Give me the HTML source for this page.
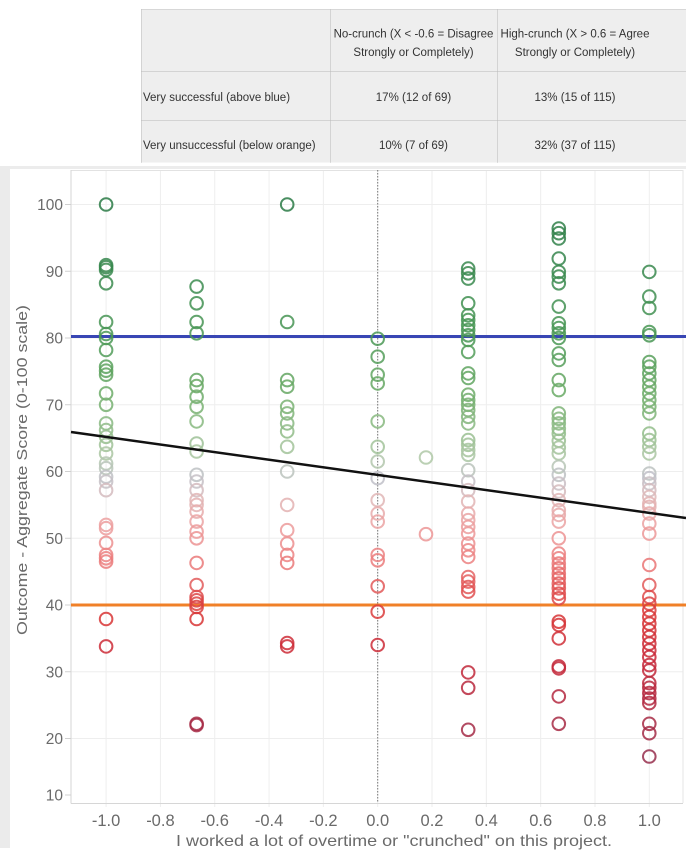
<!DOCTYPE html>
<html><head><meta charset="utf-8">
<style>
html,body{margin:0;padding:0;background:#fff;}
body{width:686px;height:863px;overflow:hidden;}
svg{display:block;font-family:"Liberation Sans",Arial,sans-serif;}
</style></head>
<body>
<svg id="s" width="686" height="863" viewBox="0 0 686 863" xmlns="http://www.w3.org/2000/svg">
<!-- table -->
<rect x="141" y="9.5" width="545" height="153" fill="#eeeeee"/>
<g stroke="#b8b8b8" stroke-width="1" stroke-dasharray="1,1" fill="none">
<line x1="141.5" y1="9.5" x2="686" y2="9.5"/>
<line x1="141.5" y1="9.5" x2="141.5" y2="163"/>
<line x1="330.5" y1="9.5" x2="330.5" y2="163"/>
<line x1="497.5" y1="9.5" x2="497.5" y2="163"/>
<line x1="141.5" y1="71.5" x2="686" y2="71.5"/>
<line x1="141.5" y1="120.5" x2="686" y2="120.5"/>
</g>
<g font-size="11.5" fill="#333">
<text x="413.5" y="37.5" text-anchor="middle">No-crunch (X &lt; -0.6 = Disagree</text>
<text x="413.5" y="56" text-anchor="middle">Strongly or Completely)</text>
<text x="575" y="37.5" text-anchor="middle">High-crunch (X &gt; 0.6 = Agree</text>
<text x="575" y="56" text-anchor="middle">Strongly or Completely)</text>
<text x="143" y="101">Very successful (above blue)</text>
<text x="413.5" y="101" text-anchor="middle">17% (12 of 69)</text>
<text x="575" y="101" text-anchor="middle">13% (15 of 115)</text>
<text x="143" y="149">Very unsuccessful (below orange)</text>
<text x="413.5" y="149" text-anchor="middle">10% (7 of 69)</text>
<text x="575" y="149" text-anchor="middle">32% (37 of 115)</text>
</g>
<!-- chart frame -->
<rect x="0" y="166" width="686" height="3" fill="#ececec"/>
<rect x="0" y="166" width="10" height="682" fill="#ebebeb"/>
<g id="grid" stroke="#eeeeee" stroke-width="1"></g>
<line x1="71" y1="170.5" x2="683" y2="170.5" stroke="#e2e2e2"/>
<line x1="683" y1="170" x2="683" y2="803" stroke="#e6e6e6"/>
<line x1="71" y1="170" x2="71" y2="803.5" stroke="#d6d6d6"/>
<line x1="71" y1="803.5" x2="683" y2="803.5" stroke="#d6d6d6"/>
<line x1="377.7" y1="170" x2="377.7" y2="803" stroke="#777" stroke-width="1" stroke-dasharray="1.5,1.5"/>
<g id="ylab" font-size="15.5" fill="#6a6a6a" text-anchor="end"></g>
<g id="xlab" font-size="16.5" fill="#6a6a6a" text-anchor="middle"></g>
<text x="394" y="846" font-size="16" fill="#6a6a6a" text-anchor="middle" textLength="436" lengthAdjust="spacingAndGlyphs">I worked a lot of overtime or "crunched" on this project.</text>
<text transform="translate(27,470) rotate(-90)" font-size="15" fill="#6a6a6a" text-anchor="middle" textLength="330" lengthAdjust="spacingAndGlyphs">Outcome - Aggregate Score (0-100 scale)</text>
<line x1="71" y1="336.5" x2="686" y2="336.5" stroke="#3846b4" stroke-width="3"/>
<line x1="71" y1="605" x2="686" y2="605" stroke="#f08028" stroke-width="3"/>
<g id="pts" fill="none" stroke-width="2" stroke-opacity="0.85"></g>
<line x1="71" y1="432" x2="686" y2="518" stroke="#111" stroke-width="2.5"/>
</svg>
<script>
(function(){
var NS="http://www.w3.org/2000/svg";
function X(x){return 377.7+x*271.6;}
function Y(v){return 204.5+(100-v)*6.675;}
function el(t,a,p,txt){var e=document.createElementNS(NS,t);for(var k in a)e.setAttribute(k,a[k]);if(txt!=null)e.textContent=txt;p.appendChild(e);return e;}
var g=document.getElementById('grid');
for(var i=-5;i<=5;i++){var x=X(i*0.2);el('line',{x1:x,y1:170,x2:x,y2:807},g);}
for(var v=20;v<=100;v+=10){var y=Y(v);el('line',{x1:71,y1:y,x2:683,y2:y},g);}
var yl=document.getElementById('ylab');
for(var v=10;v<=100;v+=10){var y=(v==10)?800.5:Y(v)+5.5;el('text',{x:63,y:y},yl,String(v));
 el('line',{x1:65,y1:(v==10?795:Y(v)),x2:71,y2:(v==10?795:Y(v)),stroke:'#d0d0d0'},yl);}
var xl=document.getElementById('xlab');
var labs=["-1.0","-0.8","-0.6","-0.4","-0.2","0.0","0.2","0.4","0.6","0.8","1.0"];
for(var i=0;i<11;i++){el('text',{x:X(-1+i*0.2),y:826},xl,labs[i]);}
var stops=[[100,[42,122,69]],[90,[56,136,78]],[80,[74,152,85]],[72,[106,170,101]],[66,[144,188,136]],[62,[176,200,168]],[59,[192,192,200]],[56,[224,184,184]],[52,[236,160,160]],[47,[236,128,128]],[42,[224,80,80]],[38,[216,53,53]],[32,[200,40,56]],[25,[176,40,64]],[15,[144,48,80]]];
function col(v){
 if(v>=stops[0][0])return 'rgb('+stops[0][1].join(',')+')';
 for(var i=0;i<stops.length-1;i++){var a=stops[i],b=stops[i+1];
  if(v<=a[0]&&v>=b[0]){var t=(a[0]-v)/(a[0]-b[0]);var c=[0,1,2].map(function(j){return Math.round(a[1][j]+(b[1][j]-a[1][j])*t);});return 'rgb('+c.join(',')+')';}}
 return 'rgb('+stops[stops.length-1][1].join(',')+')';}
var data=[
[-1,[100,90.9,90.6,90.2,88.2,82.4,80.6,80,78.2,75.7,75.1,74.5,71.7,70,67.2,66.2,65.2,64,62.7,61.2,60.5,59.2,58.5,57.2,52,51.5,49.3,47.5,47,46.5,37.9,33.8]],
[-2/3,[87.7,85.2,82.4,80.7,73.7,72.8,71.2,69.7,67.5,64.2,63,59.5,58.5,57.2,55.7,55,54,52.5,51,50,46.3,43,41.2,40.7,40.2,39.7,37.9,22.2,22.0]],
[-1/3,[100,82.4,73.7,72.7,69.7,68.7,67.2,66,63.7,60,55,51.2,49.2,47.5,46.3,34.3,33.8]],
[0,[79.9,77.2,74.5,73.2,67.5,63.7,61.5,59,55.7,53.7,52.5,47.5,46.7,42.8,39,34]],
[0.178,[62.1,50.6]],
[1/3,[90.4,89.7,88.9,85.2,83.4,82.7,81.9,81.2,80.4,79.7,77.9,74.7,74,71.5,70.7,70,69.2,68.2,67.2,64.7,64,63.2,62.5,60.2,58.5,57.2,55.5,53.7,52.7,51.7,50.7,49.2,48.2,47.2,44.2,43.5,42.7,42,29.9,27.6,21.3]],
[2/3,[96.4,95.7,94.9,91.9,89.9,89.2,88.2,84.7,82.2,81.5,80.7,80,77.7,76.7,73.7,72.2,68.7,67.9,67.2,66.4,65.7,64.6,63.6,62.7,60.7,59.5,58.2,57,55.7,54.2,53.5,52.5,50,47.7,47,46.2,45.5,44.7,44,43.2,42.5,41.7,41,37.5,37,35,30.8,30.5,26.3,22.2]],
[1,[89.9,86.2,84.5,80.9,80.4,76.4,75.7,74.7,73.7,72.7,71.7,70.7,69.7,68.7,65.7,64.7,63.7,62.7,59.7,59,58.2,57.2,56.2,55.2,54.7,53.7,52.2,50.7,46,43,41.2,40.2,39.2,38.2,37.2,36.2,35.2,34.2,33.2,32.2,31,30.2,28.3,27.6,26.8,26,25.3,22.2,20.8,17.3]]
];
var p=document.getElementById('pts');
data.forEach(function(d){var x=X(d[0]);d[1].forEach(function(v){el('circle',{cx:x.toFixed(1),cy:Y(v).toFixed(1),r:6.3,stroke:col(v)},p);});});
})();
</script>
</body></html>
